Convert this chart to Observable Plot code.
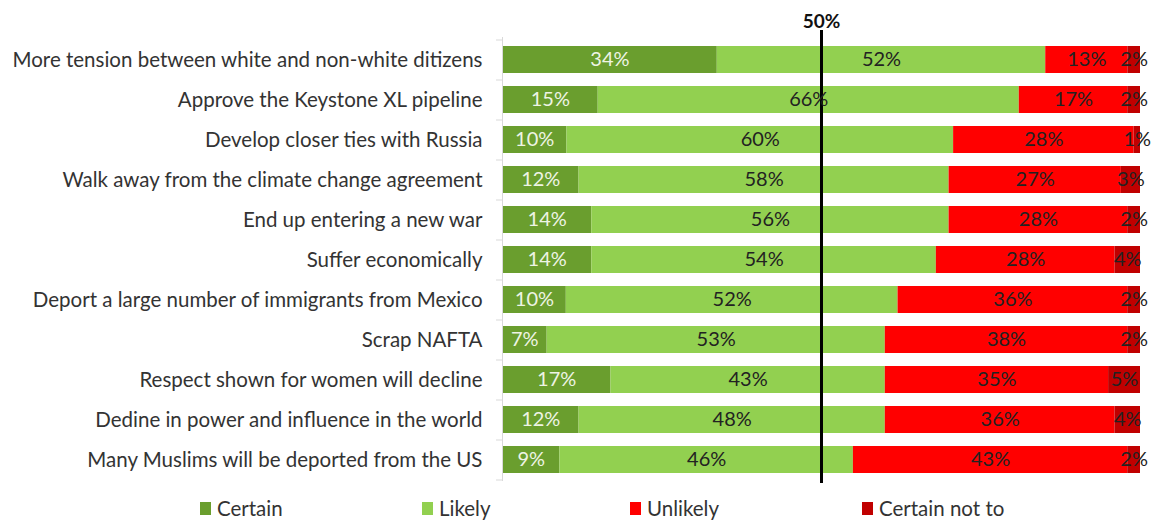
<!DOCTYPE html>
<html>
<head>
<meta charset="utf-8">
<script src="https://cdn.jsdelivr.net/npm/d3@7"></script>
<script src="https://cdn.jsdelivr.net/npm/@observablehq/plot@0.6"></script>
<style>
  html, body { margin: 0; padding: 0; background: #fff; }
  #wrap { position: relative; width: 1156px; height: 523px; font-family: Lato, "Open Sans", sans-serif; }
  #chart svg { display: block; }
  #legend { position: absolute; left: 0; top: 495px; width: 1156px; height: 26px; }
  .item { position: absolute; top: 0; display: flex; align-items: center; height: 26px; font-size: 20.5px; color: #333; }
  .sw { width: 11px; height: 13px; margin-right: 6px; }
</style>
</head>
<body>
<div id="wrap"><div id="chart"></div><div id="legend"></div></div>
<script>
const questions = [
  "More tension between white and non-white ditizens",
  "Approve the Keystone XL pipeline",
  "Develop closer ties with Russia",
  "Walk away from the climate change agreement",
  "End up entering a new war",
  "Suffer economically",
  "Deport a large number of immigrants from Mexico",
  "Scrap NAFTA",
  "Respect shown for women will decline",
  "Dedine in power and influence in the world",
  "Many Muslims will be deported from the US"
];
const responses = ["Certain", "Likely", "Unlikely", "Certain not to"];
const certain      = [34, 15, 10, 12, 14, 14, 10, 7, 17, 12, 9];
const likely       = [52, 66, 60, 58, 56, 54, 52, 53, 43, 48, 46];
const unlikely     = [13, 17, 28, 27, 28, 28, 36, 38, 35, 36, 43];
const certainNotTo = [2, 2, 1, 3, 2, 4, 2, 2, 5, 4, 2];
const colors = ["#6a9e2e", "#92d050", "#ff0000", "#c00000"];
const labelColors = ["#eef4e4", "#222", "#222", "#222"];
const midline = 0.5;

const series = [certain, likely, unlikely, certainNotTo];
const data = [];
questions.forEach((q, i) => {
  responses.forEach((r, j) => data.push({q, response: r, value: series[j][i]}));
});

const stackOpts = {x: "value", y: "q", z: "response", order: responses, offset: "normalize"};

const chart = Plot.plot({
  width: 1156,
  height: 492,
  marginLeft: 502,
  marginRight: 16,
  marginTop: 39,
  marginBottom: 13,
  style: {fontFamily: "Lato, 'Open Sans', sans-serif", background: "#fff"},
  x: {domain: [0, 1], axis: null},
  y: {domain: questions, paddingInner: 0.325, paddingOuter: 0.1625, label: null},
  color: {domain: responses, range: colors},
  marks: [
    Plot.axisY({tickSize: 0, tickPadding: 20, fontSize: 20.5, fill: "#333", label: null}),
    Plot.barX(data, Plot.stackX({...stackOpts, fill: "response"})),
    Plot.ruleX([0], {stroke: "#d9d9d9", strokeWidth: 1, insetTop: -2, insetBottom: -2}),
    Plot.ruleY(questions, {y: d => d, dy: -20, x1: 0, x2: 0, insetLeft: -6, stroke: "#d9d9d9"}),
    Plot.ruleY(questions.slice(-1), {y: d => d, dy: 20, x1: 0, x2: 0, insetLeft: -6, stroke: "#d9d9d9"}),
    Plot.ruleX([midline], {stroke: "#000", strokeWidth: 3, insetTop: -9, insetBottom: -4}),
    Plot.text([midline], {x: d => d, frameAnchor: "top", dy: -25, text: d => Math.round(d * 100) + "%", fontWeight: "bold", fontSize: 19, fill: "#111"}),
    Plot.text(data, Plot.stackX({...stackOpts, text: d => d.value + "%", fill: d => labelColors[responses.indexOf(d.response)], fontSize: 20}))
  ]
});
document.getElementById("chart").appendChild(chart);

const legendPos = [200, 422, 630, 862];
const legend = document.getElementById("legend");
responses.forEach((r, i) => {
  const item = document.createElement("div");
  item.className = "item";
  item.style.left = legendPos[i] + "px";
  item.innerHTML = `<span class="sw" style="background:${colors[i]}"></span><span>${r}</span>`;
  legend.appendChild(item);
});
</script>
</body>
</html>
